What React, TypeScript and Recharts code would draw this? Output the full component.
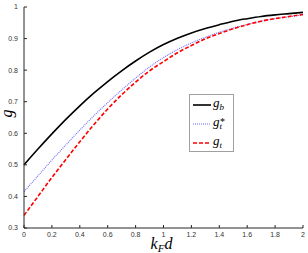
import { Legend, Line, LineChart, XAxis, YAxis } from "recharts";

// k_F d samples and the three curves
const kd = [0, 0.1, 0.2, 0.3, 0.4, 0.5, 0.6, 0.7, 0.8, 0.9, 1, 1.1, 1.2, 1.3, 1.4, 1.5, 1.6, 1.7, 1.8, 1.9, 2];
const gB = [0.5, 0.55, 0.598, 0.644, 0.687, 0.727, 0.764, 0.798, 0.829, 0.857, 0.881, 0.901, 0.918, 0.932, 0.944, 0.955, 0.963, 0.97, 0.975, 0.979, 0.983];
const gTStar = [0.415, 0.465, 0.515, 0.563, 0.61, 0.655, 0.697, 0.737, 0.775, 0.81, 0.84, 0.865, 0.886, 0.904, 0.92, 0.933, 0.945, 0.955, 0.963, 0.969, 0.975];
const gT = [0.34, 0.4, 0.46, 0.517, 0.573, 0.627, 0.677, 0.722, 0.762, 0.798, 0.827, 0.855, 0.878, 0.899, 0.916, 0.931, 0.944, 0.955, 0.963, 0.97, 0.976];

const xTicks = [0, 0.2, 0.4, 0.6, 0.8, 1, 1.2, 1.4, 1.6, 1.8, 2];
const yTicks = [0.3, 0.4, 0.5, 0.6, 0.7, 0.8, 0.9, 1];

const data = kd.map((k, i) => ({ kd: k, gb: gB[i], gts: gTStar[i], gt: gT[i] }));

const AXIS = "#262626";
const tickFont = { fontSize: 7, fill: "#333", fontFamily: "Liberation Sans, Arial, sans-serif" };
const mathFont = "Liberation Serif, Times New Roman, serif";
const fmt = (v: number) => String(Number(v.toFixed(1)));
const blank = () => "";

function LegendBox() {
  const rows = [
    { y: 10, stroke: "#000", width: 1.6, dash: undefined as string | undefined, sub: "b", star: false },
    { y: 29, stroke: "#6a6aff", width: 1.1, dash: "1 1", sub: "t", star: true },
    { y: 48, stroke: "#ff0000", width: 1.6, dash: "4 2", sub: "t", star: false },
  ];
  return (
    <div style={{ width: 45, height: 58, border: "1px solid #a0a0a0", background: "#fff", boxSizing: "border-box" }}>
      <svg width={43} height={56} style={{ display: "block" }}>
        {rows.map((r, i) => (
          <g key={i}>
            <line x1={3} x2={21} y1={r.y} y2={r.y} stroke={r.stroke} strokeWidth={r.width} strokeDasharray={r.dash} />
            <text x={23} y={r.y + 2} fontFamily={mathFont} fontStyle="italic" fontSize={13} fill="#000">
              g
              {r.star ? (
                <>
                  <tspan fontSize={10} dy={-1}>*</tspan>
                  <tspan fontSize={9} dx={-5} dy={4}>{r.sub}</tspan>
                </>
              ) : (
                <tspan fontSize={9} dy={3}>{r.sub}</tspan>
              )}
            </text>
          </g>
        ))}
      </svg>
    </div>
  );
}

export default function App() {
  return (
    <div style={{ position: "absolute", left: 0, top: 0, background: "#fff" }}>
      <LineChart width={308} height={253} data={data} margin={{ top: 7, right: 5, left: 0, bottom: 0 }}>
        <XAxis
          xAxisId="b"
          dataKey="kd"
          type="number"
          domain={[0, 2]}
          ticks={xTicks}
          tickFormatter={fmt}
          height={25}
          tickSize={-3}
          tickMargin={7}
          tick={tickFont}
          stroke={AXIS}
          interval={0}
          label={{
            content: (p: any) => {
              const vb = p.viewBox || { x: 24, y: 228, width: 279, height: 25 };
              return (
                <text x={vb.x + vb.width / 2 - 2} y={vb.y + 21} textAnchor="middle" fontFamily={mathFont} fontStyle="italic" fontSize={16} fill="#000">
                  k<tspan fontSize={11} dy={3}>F</tspan>
                  <tspan dy={-3}>d</tspan>
                </text>
              );
            },
          }}
        />
        <XAxis xAxisId="t" dataKey="kd" type="number" orientation="top" domain={[0, 2]} ticks={xTicks} tickFormatter={blank} height={0} tickSize={-3} stroke={AXIS} interval={0} />
        <YAxis
          yAxisId="l"
          type="number"
          domain={[0.3, 1]}
          ticks={yTicks}
          tickFormatter={fmt}
          width={24}
          tickSize={-3}
          tickMargin={9}
          tick={tickFont}
          stroke={AXIS}
          interval={0}
          label={{
            content: (p: any) => {
              const vb = p.viewBox || { x: 0, y: 7, width: 24, height: 221 };
              const cx = 12;
              const cy = vb.y + vb.height / 2 - 4;
              return (
                <text x={cx} y={cy} transform={`rotate(-90, ${cx}, ${cy})`} textAnchor="middle" fontFamily={mathFont} fontStyle="italic" fontSize={16} fill="#000">
                  g
                </text>
              );
            },
          }}
        />
        <YAxis yAxisId="r" type="number" orientation="right" domain={[0.3, 1]} ticks={yTicks} tickFormatter={blank} width={0} tickSize={-3} stroke={AXIS} interval={0} />
        <Legend
          layout="vertical"
          align="center"
          verticalAlign="middle"
          content={() => <LegendBox />}
          wrapperStyle={{ left: 189, top: 94, width: 45, height: 58 }}
        />
        <Line xAxisId="b" yAxisId="l" type="monotone" dataKey="gb" stroke="#000" strokeWidth={1.6} dot={false} isAnimationActive={false} />
        <Line xAxisId="b" yAxisId="l" type="monotone" dataKey="gts" stroke="#6a6aff" strokeWidth={1.1} strokeDasharray="1 1" dot={false} isAnimationActive={false} />
        <Line xAxisId="b" yAxisId="l" type="monotone" dataKey="gt" stroke="#ff0000" strokeWidth={1.6} strokeDasharray="4 2" dot={false} isAnimationActive={false} />
      </LineChart>
    </div>
  );
}
